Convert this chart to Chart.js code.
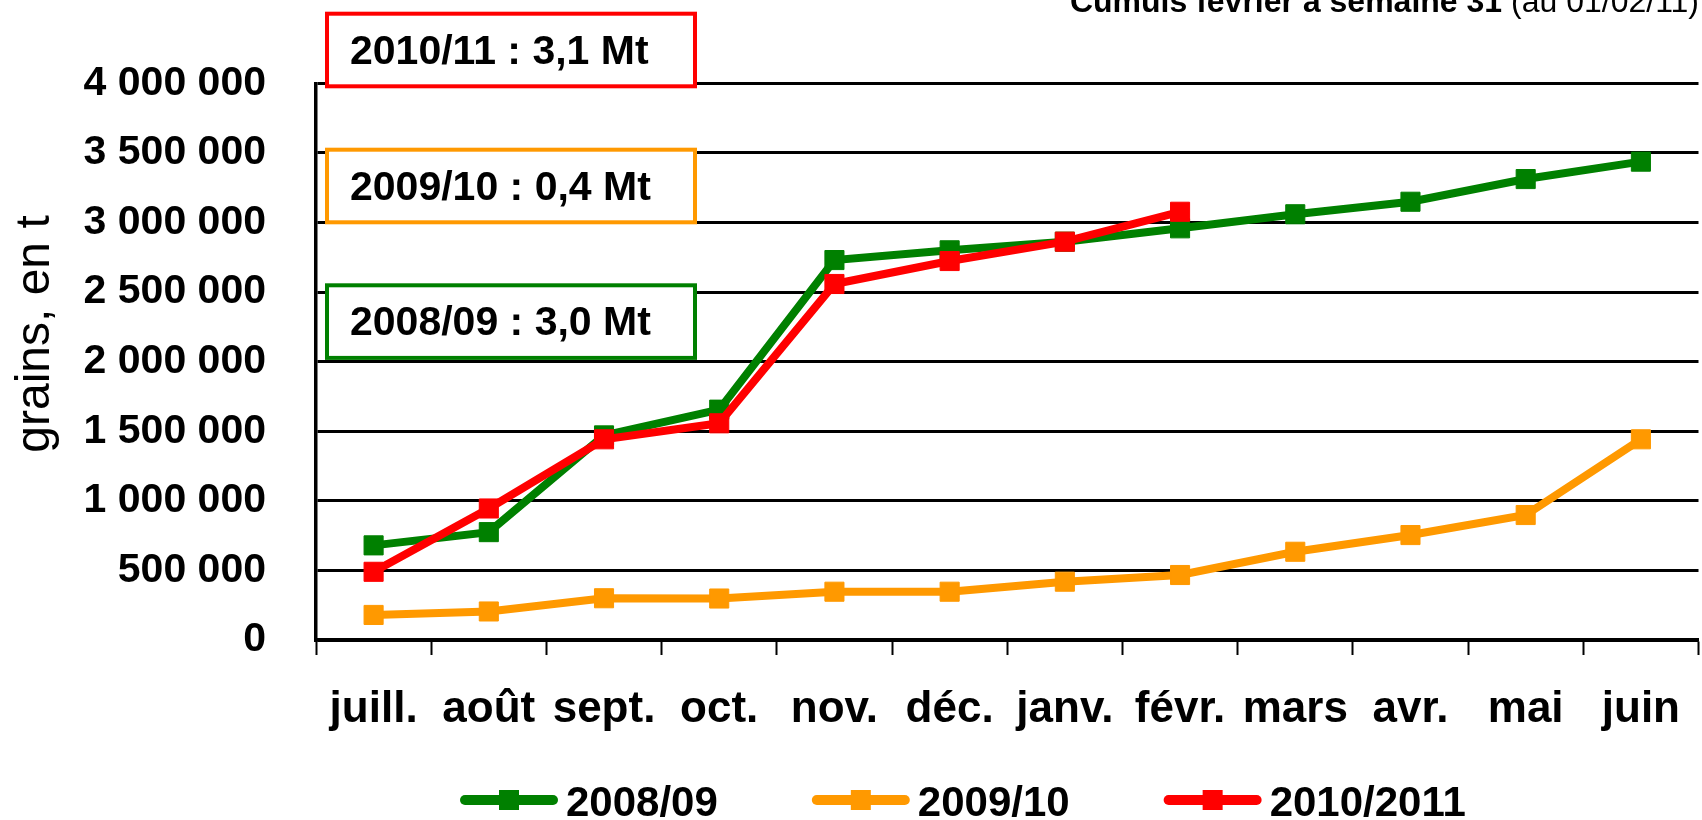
<!DOCTYPE html>
<html>
<head>
<meta charset="utf-8">
<script src="https://cdn.jsdelivr.net/npm/chart.js@4"></script>
<style>
html, body { margin:0; padding:0; background:#fff; overflow:hidden; }
</style>
</head>
<body>
<canvas id="grainsChart" width="1713" height="820"></canvas>
<script>
// Cumuls mensuels, grains en t

const months = ['juill.','août','sept.','oct.','nov.','déc.','janv.','févr.','mars','avr.','mai','juin'];
const yMax = 4000000;
const yStep = 500000;

const s0809 = [680000,775000,1470000,1655000,2730000,2800000,2862000,2958000,3059000,3149000,3312000,3437000];
const s0910 = [180000,205000,300000,298000,347000,347000,419000,467000,634000,754000,898000,1442000];
const s1011 = [490000,945000,1442000,1557000,2558000,2723000,2862000,3077000];

const seriesNames = ['2008/09','2009/10','2010/2011'];
const seriesColors = ['#008000','#ff9900','#ff0000'];

const notes = ['2010/11 : 3,1 Mt','2009/10 : 0,4 Mt','2008/09 : 3,0 Mt'];
const noteColors = ['#ff0000','#ff9900','#008000'];

const FONT = "'Liberation Sans', Arial, sans-serif";

function spaced(v){
    return String(v).replace(/\B(?=(\d{3})+(?!\d))/g,' ');
}

function lineSet(i, values, order){
    return {
        label: seriesNames[i],
        data: values,
        borderColor: seriesColors[i],
        backgroundColor: seriesColors[i],
        borderWidth: 8,
        tension: 0,
        pointStyle: 'rect',
        pointRadius: 13.5,
        pointBorderWidth: 1,
        pointHoverRadius: 13.5,
        order: order
    };
}

// texts around the plot: title, axis title, boxes, legend
const decorations = {
    id: 'decorations',
    afterDraw(chart){
        const ctx = chart.ctx;
        ctx.save();

        // top right title (cut off by the frame)
        ctx.textBaseline = 'alphabetic';
        ctx.textAlign = 'right';
        ctx.fillStyle = '#000';
        ctx.font = '32px ' + FONT;
        const rest = ' (au 01/02/11)';
        ctx.fillText(rest, 1699, 12);
        const restW = ctx.measureText(rest).width;
        ctx.font = 'bold 32px ' + FONT;
        ctx.fillText('Cumuls février à semaine 31', 1699 - restW, 12);

        // y axis title
        ctx.save();
        ctx.translate(36, 334);
        ctx.rotate(-Math.PI/2);
        ctx.textAlign = 'center';
        ctx.textBaseline = 'middle';
        ctx.font = '48px ' + FONT;
        ctx.fillText('grains, en t', 0, 0);
        ctx.restore();

        // boxes
        const boxTops = [11.7, 147.7, 283.3];
        ctx.textAlign = 'left';
        ctx.textBaseline = 'alphabetic';
        ctx.font = 'bold 41px ' + FONT;
        notes.forEach((t, i) => {
            const top = boxTops[i];
            ctx.fillStyle = '#fff';
            ctx.fillRect(325, top, 372, 76.6);
            ctx.lineWidth = 4;
            ctx.strokeStyle = noteColors[i];
            ctx.strokeRect(327, top + 2, 368, 72.6);
            ctx.fillStyle = '#000';
            ctx.fillText(t, 350, top + 52);
        });

        // legend
        let x = 460;
        const ly = 800;
        seriesNames.forEach((name, i) => {
            ctx.strokeStyle = seriesColors[i];
            ctx.fillStyle = seriesColors[i];
            ctx.lineWidth = 10;
            ctx.lineCap = 'round';
            ctx.beginPath();
            ctx.moveTo(x + 5, ly);
            ctx.lineTo(x + 93, ly);
            ctx.stroke();
            ctx.fillRect(x + 39, ly - 10, 20, 20);
            ctx.fillStyle = '#000';
            ctx.font = 'bold 42px ' + FONT;
            ctx.fillText(name, x + 106, 816);
            x += 106 + ctx.measureText(name).width + 94;
        });

        ctx.restore();
    }
};

new Chart(
document.getElementById('grainsChart'),
{
    type:'line',
    data:{
        labels: months,
        datasets:[
            lineSet(0, s0809, 2),
            lineSet(1, s0910, 1),
            lineSet(2, s1011, 0)
        ]
    },
    options:{
        responsive:false,
        animation:false,
        events:[],
        layout:{ padding:{ top:83.3, left:0, right:0, bottom:0 } },
        plugins:{
            legend:{ display:false },
            tooltip:{ enabled:false }
        },
        scales:{
            x:{
                offset:true,
                grid:{
                    offset:true,
                    drawOnChartArea:false,
                    color:'#000',
                    tickLength:15,
                    tickWidth:2
                },
                border:{ color:'#000', width:3.5 },
                ticks:{
                    color:'#000',
                    font:{ family:FONT, size:44, weight:'bold' },
                    padding:28,
                    autoSkip:false,
                    maxRotation:0
                },
                afterFit(scale){ scale.height = 180; }
            },
            y:{
                min:0,
                max:yMax,
                grid:{ color:'#000', lineWidth:3, drawTicks:false },
                border:{ color:'#000', width:3.5 },
                ticks:{
                    stepSize:yStep,
                    color:'#000',
                    padding:50,
                    font:{ family:FONT, size:41, weight:'bold' },
                    callback:(v) => spaced(v)
                },
                afterFit(scale){ scale.width = 316; }
            }
        }
    },
    plugins:[decorations]
});
</script>
</body>
</html>
